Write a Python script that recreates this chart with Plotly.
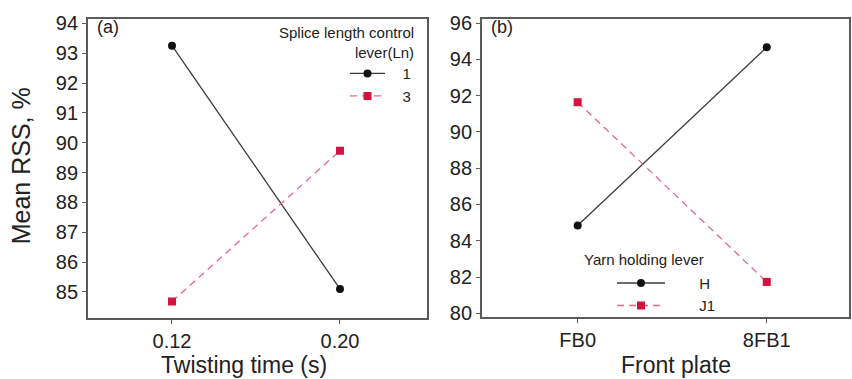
import plotly.graph_objects as go

# ---- data ----
twist_cats = ["0.12", "0.20"]
ln1_vals = [93.25, 85.10]
ln3_vals = [84.68, 89.73]

plate_cats = ["FB0", "8FB1"]
h_vals = [84.84, 94.67]
j1_vals = [91.64, 81.73]

ticks_a = [85, 86, 87, 88, 89, 90, 91, 92, 93, 94]
ticks_b = [80, 82, 84, 86, 88, 90, 92, 94, 96]

W, H = 852, 379
FONT = "Arial, Liberation Sans, sans-serif"
BLACK_LINE = "#3a3a3a"
RED_LINE = "#e36a82"
RED_MK = "#d3123f"
FRAME = "#5a5a5a"
TXT = "#222222"

fig = go.Figure()

fig.add_trace(go.Scatter(x=twist_cats, y=ln1_vals, mode="lines+markers", name="\u00a0\u00a0\u00a01",
                         line=dict(color=BLACK_LINE, width=1.3),
                         marker=dict(symbol="circle", size=8, color="#111111"),
                         xaxis="x", yaxis="y", legend="legend"))
fig.add_trace(go.Scatter(x=twist_cats, y=ln3_vals, mode="lines+markers", name="\u00a0\u00a0\u00a03",
                         line=dict(color=RED_LINE, width=1.3, dash="7px,5px"),
                         marker=dict(symbol="square", size=8, color=RED_MK),
                         xaxis="x", yaxis="y", legend="legend"))
fig.add_trace(go.Scatter(x=plate_cats, y=h_vals, mode="lines+markers", name="\u00a0\u00a0\u00a0\u00a0\u00a0\u00a0\u00a0H",
                         line=dict(color=BLACK_LINE, width=1.3),
                         marker=dict(symbol="circle", size=8, color="#111111"),
                         xaxis="x2", yaxis="y2", legend="legend2"))
fig.add_trace(go.Scatter(x=plate_cats, y=j1_vals, mode="lines+markers", name="\u00a0\u00a0\u00a0\u00a0\u00a0\u00a0\u00a0J1",
                         line=dict(color=RED_LINE, width=1.3, dash="7px,5px"),
                         marker=dict(symbol="square", size=8, color=RED_MK),
                         xaxis="x2", yaxis="y2", legend="legend2"))

axis_common = dict(showline=True, mirror=True, linecolor=FRAME, linewidth=1.8,
                   ticks="outside", ticklen=4, tickcolor=FRAME, tickwidth=1,
                   showgrid=False, zeroline=False,
                   tickfont=dict(family=FONT, size=20, color=TXT))

fig.update_layout(
    width=W, height=H,
    margin=dict(l=0, r=0, t=0, b=0),
    paper_bgcolor="white", plot_bgcolor="white",
    font=dict(family=FONT, color=TXT),
    xaxis=dict(domain=[88 / W, 427 / W], type="category", range=[-0.5, 1.518],
               anchor="y", **axis_common),
    yaxis=dict(domain=[1 - 323 / H, 1 - 13 / H], range=[84.13, 94.16],
               tickvals=ticks_a, anchor="x", **axis_common),
    xaxis2=dict(domain=[482 / W, 849 / W], type="category", range=[-0.506, 1.435],
                anchor="y2", **axis_common),
    yaxis2=dict(domain=[1 - 322 / H, 1 - 13 / H], range=[79.8, 96.25],
                tickvals=ticks_b, anchor="x2", **axis_common),
    legend=dict(x=345 / W, y=1 - 53 / H, xanchor="left", yanchor="top",
                bgcolor="rgba(0,0,0,0)", borderwidth=0, itemwidth=35,
                font=dict(family=FONT, size=15, color=TXT),
                tracegroupgap=0, itemclick=False),
    legend2=dict(x=612 / W, y=1 - 270 / H, xanchor="left", yanchor="top",
                 bgcolor="rgba(0,0,0,0)", borderwidth=0, itemwidth=48,
                 font=dict(family=FONT, size=15, color=TXT),
                 tracegroupgap=0, itemclick=False),
    showlegend=True,
)

annotations = [
    dict(text="Mean RSS, %", x=21 / W, y=1 - 166 / H, xref="paper", yref="paper",
         textangle=-90, showarrow=False, font=dict(family=FONT, size=25, color=TXT),
         xanchor="center", yanchor="middle"),
    dict(text="Twisting time (s)", x=244 / W, y=0, xref="paper", yref="paper",
         showarrow=False, font=dict(family=FONT, size=23, color=TXT),
         xanchor="center", yanchor="bottom", borderpad=0, yshift=-7),
    dict(text="Front plate", x=676 / W, y=0, xref="paper", yref="paper",
         showarrow=False, font=dict(family=FONT, size=23, color=TXT),
         xanchor="center", yanchor="bottom", borderpad=0, yshift=-7),
    dict(text="(a)", x=95 / W, y=1 - 22 / H, xref="paper", yref="paper",
         showarrow=False, font=dict(family=FONT, size=18, color=TXT),
         xanchor="left", yanchor="middle"),
    dict(text="(b)", x=489 / W, y=1 - 22 / H, xref="paper", yref="paper",
         showarrow=False, font=dict(family=FONT, size=18, color=TXT),
         xanchor="left", yanchor="middle"),
    dict(text="Splice length control<br>lever(Ln)", x=416 / W, y=1 - 17 / H,
         xref="paper", yref="paper", showarrow=False, align="right",
         font=dict(family=FONT, size=15, color=TXT),
         xanchor="right", yanchor="top"),
    dict(text="Yarn holding lever", x=582 / W, y=1 - 263 / H, xref="paper", yref="paper",
         showarrow=False, font=dict(family=FONT, size=15, color=TXT),
         xanchor="left", yanchor="middle"),
]
fig.update_layout(annotations=annotations)

fig.write_html("out.html")
